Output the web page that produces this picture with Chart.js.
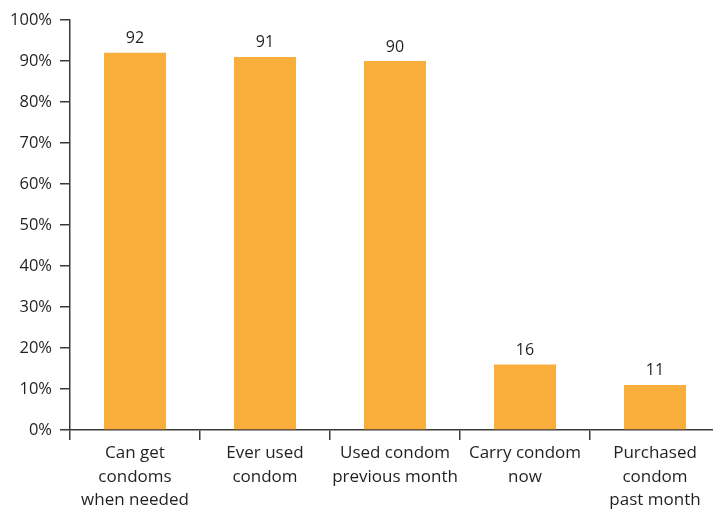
<!DOCTYPE html>
<html>
<head>
<meta charset="utf-8">
<script src="https://cdn.jsdelivr.net/npm/chart.js@4/dist/chart.umd.min.js"></script>
<style>
  html, body { margin: 0; padding: 0; background: #fff; overflow: hidden; }
  #wrap { width: 720px; height: 509px; }
</style>
</head>
<body>
<div id="wrap"><canvas id="chart"></canvas></div>
<script>
const categories = [
    ["Can get", "condoms", "when needed"],
    ["Ever used", "condom"],
    ["Used condom", "previous month"],
    ["Carry condom", "now"],
    ["Purchased", "condom", "past month"]
];
const values = [92, 91, 90, 16, 11];
const yTicks = [0, 10, 20, 30, 40, 50, 60, 70, 80, 90, 100];

const barColor = "#F9AE3B";
const axisColor = "#3a3a3a";
const textColor = "#231f20";
const fontFamily = "'Open Sans', 'Noto Sans', sans-serif";

const valueLabels = {
    id: "valueLabels",
    afterDatasetsDraw(chart) {
        const ctx = chart.ctx;
        const meta = chart.getDatasetMeta(0);
        ctx.save();
        ctx.font = "16px " + fontFamily;
        ctx.fillStyle = textColor;
        ctx.textAlign = "center";
        ctx.textBaseline = "bottom";
        meta.data.forEach((bar, i) => {
            ctx.fillText(String(values[i]), bar.x, bar.y - 6);
        });
        ctx.restore();
    }
};

new Chart(document.getElementById("chart"), {
    type: "bar",
    data: {
        labels: categories,
        datasets: [{
            data: values,
            backgroundColor: barColor,
            borderWidth: 0,
            categoryPercentage: 1,
            barPercentage: 0.477
        }]
    },
    options: {
        responsive: true,
        maintainAspectRatio: false,
        animation: false,
        layout: { padding: { top: 20, right: 0, left: 0, bottom: 0 } },
        plugins: {
            legend: { display: false },
            tooltip: { enabled: false }
        },
        scales: {
            x: {
                offset: true,
                grid: {
                    offset: true,
                    drawOnChartArea: false,
                    drawTicks: true,
                    tickLength: 10,
                    color: axisColor,
                    lineWidth: 1.5
                },
                border: { display: true, color: axisColor, width: 1.5 },
                ticks: {
                    color: textColor,
                    font: { family: fontFamily, size: 17, lineHeight: 1.4 },
                    padding: 1,
                    maxRotation: 0,
                    autoSkip: false
                },
                afterFit(scale) { scale.height = 79; }
            },
            y: {
                min: 0,
                max: 100,
                afterBuildTicks(scale) {
                    scale.ticks = yTicks.map(v => ({ value: v }));
                },
                grid: {
                    drawOnChartArea: false,
                    drawTicks: true,
                    tickLength: 10,
                    color: axisColor,
                    lineWidth: 1.5
                },
                border: { display: true, color: axisColor, width: 1.5 },
                ticks: {
                    color: textColor,
                    font: { family: fontFamily, size: 16.5 },
                    padding: 8,
                    callback: v => v + "%"
                },
                afterFit(scale) { scale.width = 70; }
            }
        }
    },
    plugins: [valueLabels]
});
</script>
</body>
</html>
